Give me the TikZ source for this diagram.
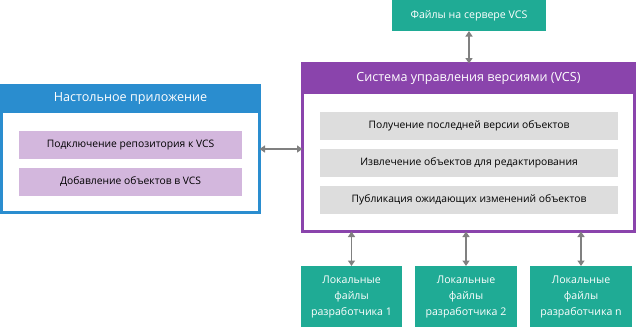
\documentclass[tikz,border=0pt]{standalone}
\usepackage{fontspec}
\setmainfont{Open Sans}
\usetikzlibrary{arrows.meta}

\definecolor{appblue}{HTML}{2A8DCF}
\definecolor{vcspurple}{HTML}{8A44AC}
\definecolor{fileteal}{HTML}{1FAB95}
\definecolor{itemlilac}{HTML}{D3B7DD}
\definecolor{itemgray}{HTML}{DDDDDD}
\definecolor{linkgray}{HTML}{808080}

\tikzset{
  frame/.style={draw, line width=3pt, inner sep=0pt, outer sep=0pt, anchor=north west},
  headbar/.style={inner sep=0pt, outer sep=0pt, anchor=north west, text=white,
    font=\fontsize{12.6}{15}\selectfont},
  itembox/.style={inner sep=0pt, outer sep=0pt, anchor=north west,
    font=\fontsize{10.3}{12}\selectfont},
  filebox/.style={fill=fileteal, text=white, inner sep=0pt, outer sep=0pt,
    anchor=north west, align=center, font=\fontsize{10.6}{16}\selectfont},
  link/.style={draw=linkgray, line width=1.3pt,
    {Triangle[width=7pt,length=5.5pt]}-{Triangle[width=7pt,length=5.5pt]}}
}

\begin{document}
\begin{tikzpicture}[x=1pt, y=-1pt]
  \useasboundingbox (0,0) rectangle (636,327);
  % Desktop application
  \node[frame, draw=appblue, minimum width=258pt, minimum height=127pt]
    (app) at (1.5,85.5) {};
  \node[headbar, fill=appblue, minimum width=261pt, minimum height=29pt]
    (apphead) at (0,84) {Настольное приложение};
  \node[itembox, fill=itemlilac, minimum width=223pt, minimum height=28pt]
    (connect) at (19,131) {Подключение репозитория к VCS};
  \node[itembox, fill=itemlilac, minimum width=223pt, minimum height=28pt]
    (addobj) at (19,168) {Добавление объектов в VCS};
  % Version control system
  \node[frame, draw=vcspurple, minimum width=332pt, minimum height=168pt]
    (vcs) at (302.5,63.5) {};
  \node[headbar, fill=vcspurple, minimum width=335pt, minimum height=32pt]
    (vcshead) at (301,62) {Система управления версиями (VCS)};
  \node[itembox, fill=itemgray, minimum width=298pt, minimum height=28pt]
    (latest) at (320,112) {Получение последней версии объектов};
  \node[itembox, fill=itemgray, minimum width=298pt, minimum height=28pt]
    (checkout) at (320,149) {Извлечение объектов для редактирования};
  \node[itembox, fill=itemgray, minimum width=298pt, minimum height=28pt]
    (publish) at (320,186) {Публикация ожидающих изменений объектов};
  % Files on the server
  \node[filebox, minimum width=154pt, minimum height=31pt]
    (server) at (392,0) {Файлы на сервере VCS};
  % Local developer files
  \node[filebox, minimum width=101pt, minimum height=61pt]
    (local1) at (301,266) {Локальные\\файлы\\разработчика 1};
  \node[filebox, minimum width=102pt, minimum height=61pt]
    (local2) at (415,266) {Локальные\\файлы\\разработчика 2};
  \node[filebox, minimum width=102pt, minimum height=61pt]
    (localn) at (530,266) {Локальные\\файлы\\разработчика n};
  % Connectors
  \draw[link] (app.east) -- (app.east -| vcs.west);
  \draw[link] (server.south) -- (server.south |- vcs.north);
  \draw[link] (local1.north) -- (local1.north |- vcs.south);
  \draw[link] (local2.north) -- (local2.north |- vcs.south);
  \draw[link] (localn.north) -- (localn.north |- vcs.south);
\end{tikzpicture}
\end{document}
